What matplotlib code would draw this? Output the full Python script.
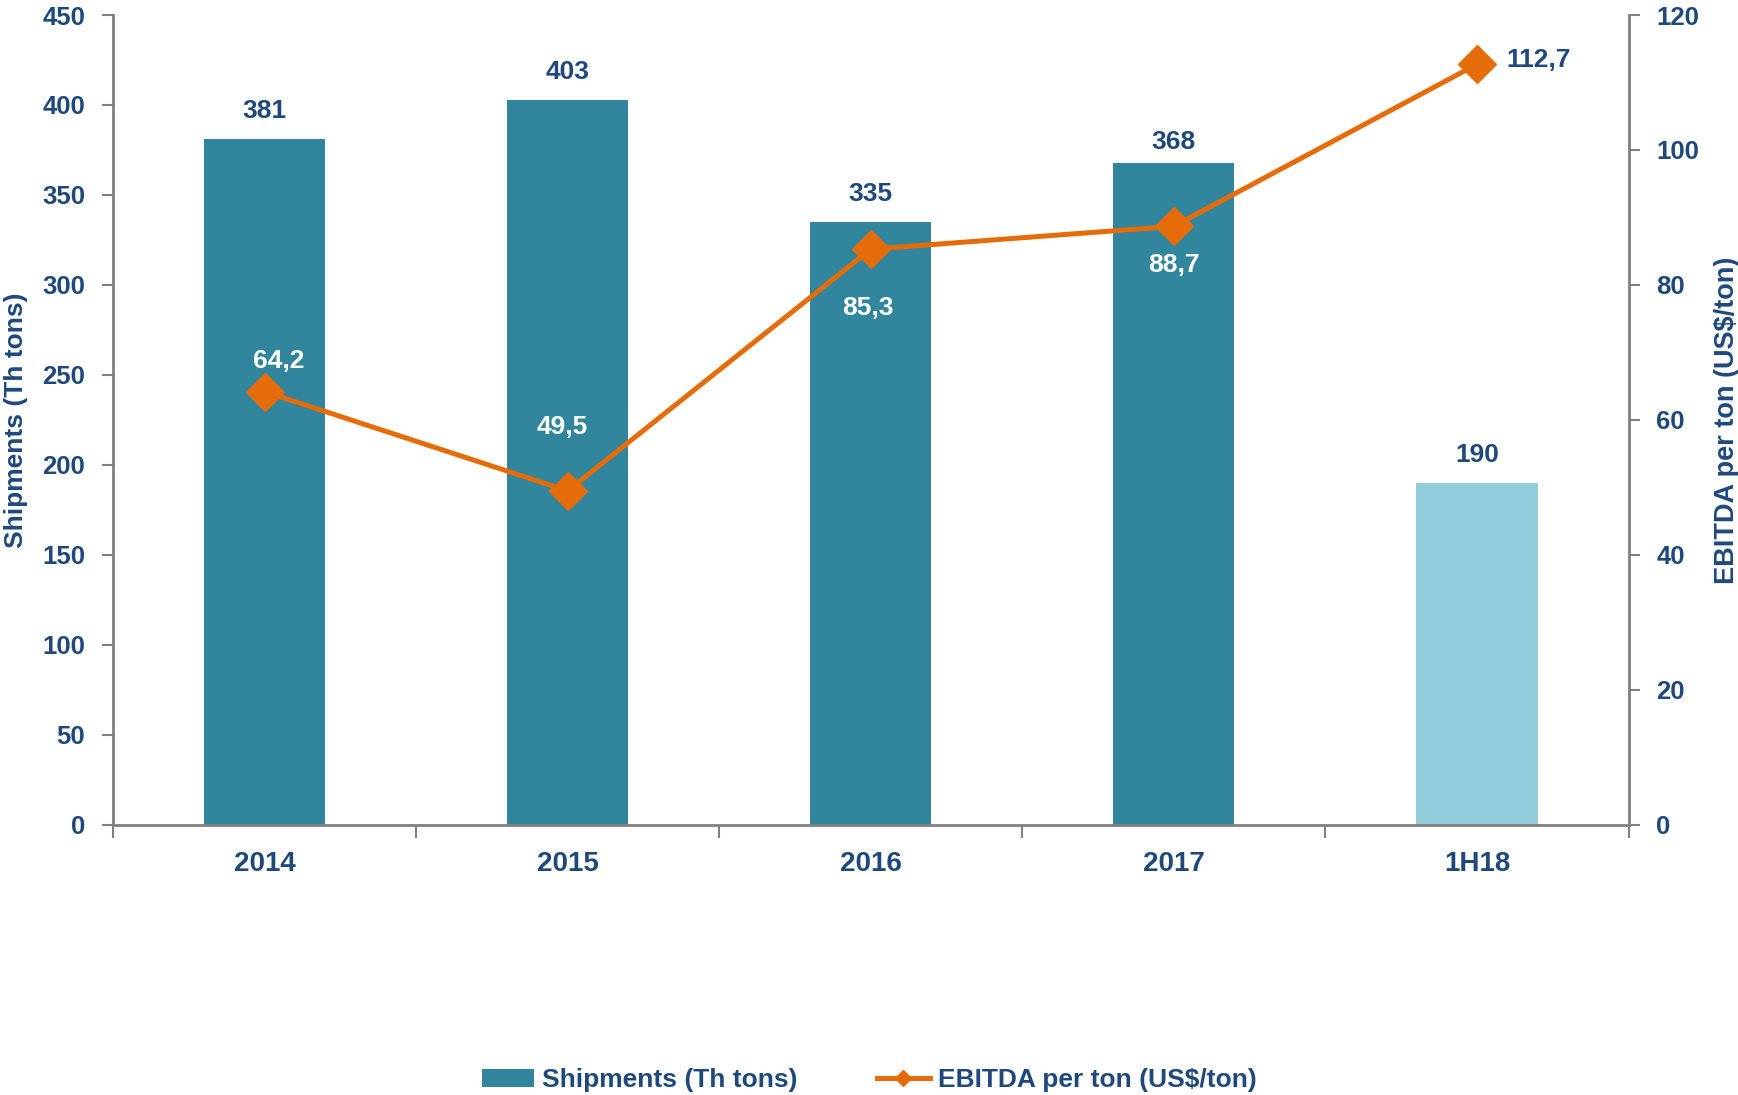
import matplotlib
matplotlib.use("Agg")
import matplotlib.pyplot as plt
from matplotlib.patches import Patch
from matplotlib.lines import Line2D

categories = ["2014", "2015", "2016", "2017", "1H18"]
shipments = [381, 403, 335, 368, 190]
ebitda = [64.2, 49.5, 85.3, 88.7, 112.7]
ebitda_labels = ["64,2", "49,5", "85,3", "88,7", "112,7"]

NAVY = "#1F497D"
TEAL = "#31859C"
LIGHT = "#92CDDC"
ORANGE = "#E46C0A"
GRAY = "#808080"

plt.rcParams['font.family'] = ['Liberation Sans', 'DejaVu Sans']
plt.rcParams['font.weight'] = 'bold'

fig = plt.figure(figsize=(17.38, 10.95), dpi=100)
ax = fig.add_axes([0.065, 0.2466, 0.872, 0.7397])
x = list(range(len(categories)))
colors = [TEAL] * 4 + [LIGHT]
ax.bar(x, shipments, width=0.4, color=colors, zorder=2)
ax.set_xlim(-0.5, len(categories) - 0.5)
ax.set_ylim(0, 450)
ax.set_yticks(range(0, 451, 50))
ax.set_xticks(x)
ax.set_xticklabels(categories)
ax.set_xticks([i - 0.5 for i in range(len(categories) + 1)], minor=True)
ax.tick_params(axis='x', which='major', length=0, pad=19, labelsize=20, labelcolor=NAVY)
ax.tick_params(axis='x', which='minor', length=9, width=1.5, color=GRAY, direction='out')
ax.tick_params(axis='y', length=8, width=1.5, color=GRAY, labelsize=18.5, labelcolor=NAVY, pad=12)
for s in ['top', 'right']:
    ax.spines[s].set_visible(False)
for s in ['left', 'bottom']:
    ax.spines[s].set_color(GRAY)
    ax.spines[s].set_linewidth(2)
ax.set_ylabel("Shipments (Th tons)", fontsize=19, color=NAVY, fontweight='bold',
              va='center', ha='center')
ax.yaxis.set_label_coords(-0.064, 0.5)

bar_offsets = [20, 20, 20, 15, 20]
for xi, v, off in zip(x, shipments, bar_offsets):
    ax.annotate(str(v), (xi, v), xytext=(0, off), textcoords='offset points',
                ha='center', va='center', fontsize=19, color=NAVY, fontweight='bold')

ax2 = ax.twinx()
ax2.set_ylim(0, 120)
ax2.set_yticks(range(0, 121, 20))
ax2.plot(x, ebitda, color=ORANGE, lw=3.6, marker='D', markersize=19, zorder=3)
for s in ['top', 'left', 'bottom']:
    ax2.spines[s].set_visible(False)
ax2.spines['right'].set_color(GRAY)
ax2.spines['right'].set_linewidth(2)
ax2.tick_params(axis='y', length=8, width=1.5, color=GRAY, labelsize=18.5, labelcolor=NAVY, pad=12)
ax2.set_ylabel("EBITDA per ton (US$/ton)", fontsize=19.5, color=NAVY, fontweight='bold',
               va='center', ha='center')
ax2.yaxis.set_label_coords(1.0647, 0.5)

offsets = [(10, 22), (-4, 46), (-2, -42), (0, -28), (44, 3)]
tcolors = ["white", "white", "white", "white", NAVY]
for xi, v, lab, off, c in zip(x, ebitda, ebitda_labels, offsets, tcolors):
    ax2.annotate(lab, (xi, v), xytext=off, textcoords='offset points',
                 ha='center', va='center', fontsize=19, color=c, fontweight='bold')

handles = [Patch(facecolor=TEAL, edgecolor='none'),
           Line2D([0], [0], color=ORANGE, lw=3.6, marker='D', markersize=8)]
leg = fig.legend(handles, ["Shipments (Th tons)", "EBITDA per ton (US$/ton)"],
                 loc='center', bbox_to_anchor=(0.5, 1 - 1080 / 1095), ncol=2, frameon=False,
                 prop={'family': ['Liberation Sans Narrow', 'Liberation Sans'], 'weight': 'bold', 'size': 19},
                 handlelength=2.0, columnspacing=3, handletextpad=0.3)
for t in leg.get_texts():
    t.set_color(NAVY)

fig.savefig("out.png", dpi=100)
